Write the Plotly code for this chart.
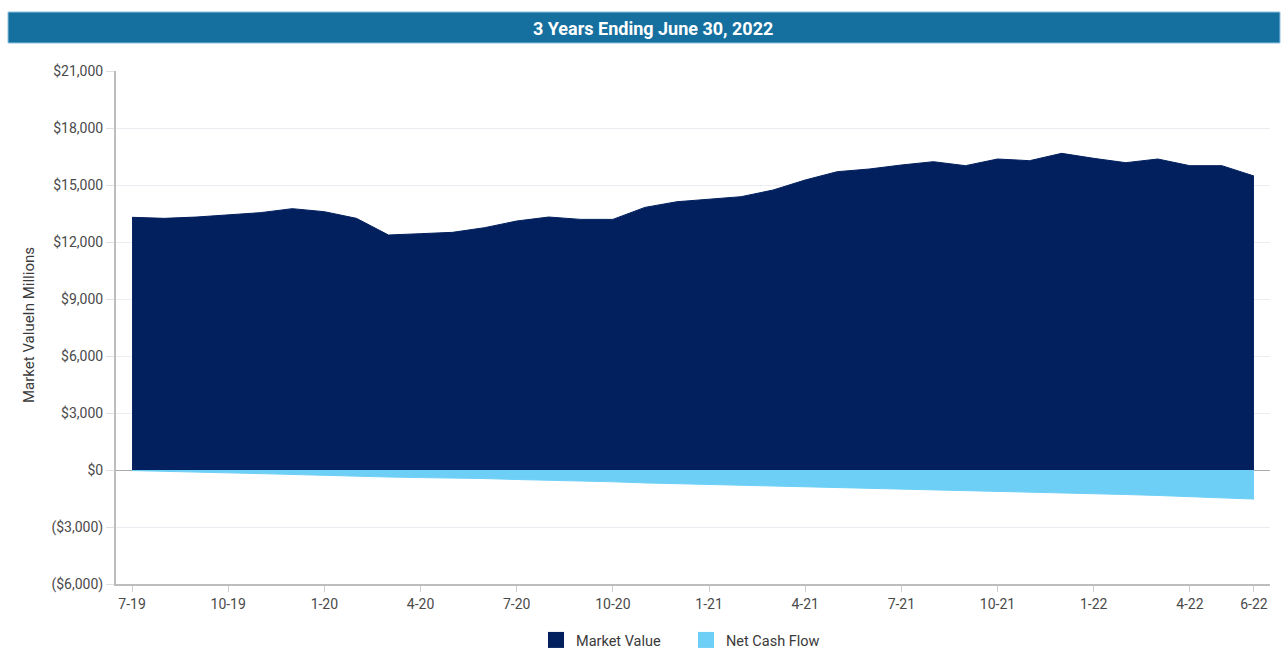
import plotly.graph_objects as go

months = ["7-19", "8-19", "9-19", "10-19", "11-19", "12-19",
          "1-20", "2-20", "3-20", "4-20", "5-20", "6-20",
          "7-20", "8-20", "9-20", "10-20", "11-20", "12-20",
          "1-21", "2-21", "3-21", "4-21", "5-21", "6-21",
          "7-21", "8-21", "9-21", "10-21", "11-21", "12-21",
          "1-22", "2-22", "3-22", "4-22", "5-22", "6-22"]

market_value = [13300, 13245, 13313, 13436, 13543, 13754,
                13596, 13245, 12368, 12438, 12508, 12754,
                13105, 13315, 13190, 13190, 13822, 14120,
                14262, 14385, 14736, 15263, 15701, 15842,
                16052, 16227, 16017, 16368, 16280, 16666,
                16403, 16175, 16368, 16017, 16017, 15473]

net_cash_flow = [-30, -80, -120, -150, -190, -240,
                 -280, -320, -370, -400, -420, -450,
                 -500, -530, -570, -620, -680, -720,
                 -760, -790, -830, -860, -900, -950,
                 -1000, -1040, -1070, -1110, -1160, -1200,
                 -1250, -1290, -1340, -1400, -1450, -1530]

tick_months = ["7-19", "10-19", "1-20", "4-20", "7-20", "10-20", "1-21",
               "4-21", "7-21", "10-21", "1-22", "4-22", "6-22"]

y_ticks = [-6000, -3000, 0, 3000, 6000, 9000, 12000, 15000, 18000, 21000]
y_labels = ["($6,000)", "($3,000)", "$0", "$3,000", "$6,000", "$9,000",
            "$12,000", "$15,000", "$18,000", "$21,000"]

NAVY = "#02205e"
CYAN = "#6dcff6"

fig = go.Figure()
fig.add_trace(go.Scatter(x=months, y=market_value, mode="lines", fill="tozeroy",
                         line=dict(color=NAVY, width=1), fillcolor=NAVY,
                         showlegend=False, hoverinfo="x+y"))
fig.add_trace(go.Scatter(x=months, y=net_cash_flow, mode="lines", fill="tozeroy",
                         line=dict(color=CYAN, width=1), fillcolor=CYAN,
                         showlegend=False, hoverinfo="x+y"))
# legend entries as squares
fig.add_trace(go.Scatter(x=[None], y=[None], mode="markers", name="Market Value",
                         marker=dict(symbol="square", size=17, color=NAVY)))
fig.add_trace(go.Scatter(x=[None], y=[None], mode="markers", name="Net Cash Flow",
                         marker=dict(symbol="square", size=17, color=CYAN)))

L, R, T, B = 116, 1270, 71, 584
W, H = 1287, 650
pw, ph = R - L, B - T

def px_x(px):
    return (px - L) / pw

def px_y(py):
    return (B - py) / ph

fig.update_layout(
    width=W, height=H,
    margin=dict(l=L, r=W - R, t=T, b=H - B, autoexpand=False),
    paper_bgcolor="white", plot_bgcolor="white",
    font=dict(family="Roboto, Arial, sans-serif", size=14, color="#4a4a4a"),
    xaxis=dict(type="category", categoryorder="array", categoryarray=months,
               range=[-0.5, len(months) - 0.5],
               tickmode="array", tickvals=tick_months, ticktext=tick_months,
               showgrid=False, showline=True, linecolor="#bdbdbd", linewidth=2,
               ticks="outside", ticklen=6, tickcolor="#d0d0d0",
               tickfont=dict(size=14, color="#4a4a4a"), zeroline=False),
    yaxis=dict(range=[-6000, 21000], tickmode="array", tickvals=y_ticks, ticktext=y_labels,
               showgrid=True, gridcolor="#ececf2", gridwidth=1,
               showline=True, linecolor="#bdbdbd", linewidth=2,
               ticks="outside", ticklen=8, tickcolor="#e0e0e0",
               tickfont=dict(size=14, color="#4a4a4a"),
               zeroline=True, zerolinecolor="#a8a8a8", zerolinewidth=1),
    legend=dict(orientation="h", x=px_x(686), xanchor="center", y=px_y(640), yanchor="middle",
                font=dict(size=14.5, color="#3a3a3a"), itemwidth=30,
                entrywidth=105, entrywidthmode="pixels"),
    shapes=[dict(type="rect", xref="paper", yref="paper",
                 x0=px_x(8), x1=px_x(1280), y0=px_y(43), y1=px_y(12),
                 fillcolor="#15709f", line=dict(color="#8cc3e0", width=1), layer="above")],
    annotations=[
        dict(text="<b>3 Years Ending June 30, 2022</b>", xref="paper", yref="paper",
             x=px_x(653), y=px_y(28), xanchor="center", yanchor="middle", showarrow=False,
             font=dict(family="Roboto, Arial, sans-serif", size=18, color="white")),
        dict(text="Market ValueIn Millions", xref="paper", yref="paper",
             x=px_x(29), y=px_y(325), xanchor="center", yanchor="middle", showarrow=False,
             textangle=-90, font=dict(size=15, color="#3a3a3a")),
    ],
)

fig.write_html("out.html")
